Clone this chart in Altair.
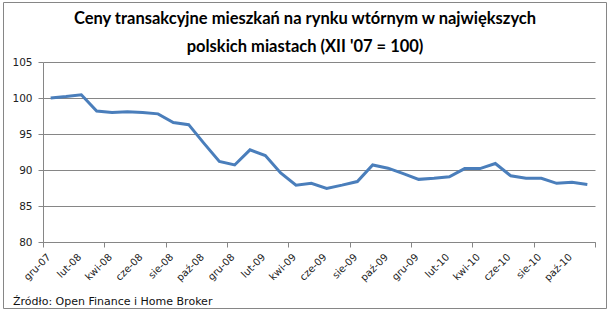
import altair as alt
import pandas as pd

months = ["gru-07", "sty-08", "lut-08", "mar-08", "kwi-08", "maj-08", "cze-08", "lip-08",
          "sie-08", "wrz-08", "paź-08", "lis-08", "gru-08", "sty-09", "lut-09", "mar-09",
          "kwi-09", "maj-09", "cze-09", "lip-09", "sie-09", "wrz-09", "paź-09", "lis-09",
          "gru-09", "sty-10", "lut-10", "mar-10", "kwi-10", "maj-10", "cze-10", "lip-10",
          "sie-10", "wrz-10", "paź-10", "lis-10"]
values = [100.0, 100.2, 100.45, 98.2, 98.0, 98.1, 98.0, 97.8,
          96.6, 96.3, 93.7, 91.2, 90.7, 92.8, 92.0, 89.6,
          87.9, 88.15, 87.45, 87.9, 88.4, 90.7, 90.25, 89.5,
          88.7, 88.85, 89.05, 90.2, 90.2, 90.9, 89.2, 88.85,
          88.85, 88.15, 88.3, 88.0]
y_ticks = [80, 85, 90, 95, 100, 105]
title_lines = ["Ceny transakcyjne  mieszkań  na rynku wtórnym w największych",
               "polskich miastach  (XII '07 = 100)"]
source = "Źródło: Open Finance i Home  Broker"

n = len(months)
df = pd.DataFrame({"idx": list(range(n)), "month": months, "value": values})
df_lab = df.iloc[0::2]

tick_vals = [i - 0.5 for i in range(0, n + 1, 2)]

GRAY = "#868686"
xscale = alt.Scale(domain=[-0.5, n - 0.5], nice=False, zero=False)

line = alt.Chart(df).mark_line(color="#4A7EBB", strokeWidth=3).encode(
    x=alt.X("idx:Q", scale=xscale,
            axis=alt.Axis(values=tick_vals, labels=False, grid=False, title=None,
                          tickSize=5)),
    y=alt.Y("value:Q",
            scale=alt.Scale(domain=[80, 105], nice=False, zero=False),
            axis=alt.Axis(values=y_ticks, grid=True, title=None, tickSize=5,
                          labelPadding=6)),
)

xlabels = alt.Chart(df_lab).mark_text(
    angle=315, align="right", baseline="top", font="DejaVu Sans", fontSize=10,
    color="#222"
).encode(
    x=alt.X("idx:Q", scale=xscale),
    xOffset=alt.value(-5),
    y=alt.value(190),
    text="month:N",
)

border = alt.Chart(alt.Data(values=[{"a": 1}])).mark_rect(
    fill=None, stroke=GRAY, strokeWidth=1
).encode(x=alt.value(-39.5), x2=alt.value(563.5), y=alt.value(-59.5), y2=alt.value(246.5))

src = alt.Chart(alt.Data(values=[{"t": source}])).mark_text(
    align="left", baseline="alphabetic", font="DejaVu Sans", fontSize=11, color="#111"
).encode(text="t:N", x=alt.value(-30), y=alt.value(243))

ttl = alt.Chart(alt.Data(values=[{"t": title_lines[0], "k": 0}, {"t": title_lines[1], "k": 1}])).mark_text(
    align="center", baseline="alphabetic", font="Lato", fontSize=16.5, fontWeight="bold", color="#000"
).encode(
    text="t:N", x=alt.value(262),
    y=alt.Y("k:Q", scale=alt.Scale(domain=[0, 1], range=[-38, -10]), axis=None),
)

chart = alt.layer(line, xlabels, border, src, ttl).resolve_scale(y="independent").properties(
    width=552, height=180,
    autosize=alt.AutoSizeParams(type="none"),
    padding={"left": 43, "top": 62, "right": 15, "bottom": 70},
).configure_view(stroke=None).configure_axis(
    domainColor=GRAY, tickColor=GRAY, gridColor=GRAY, gridOpacity=1,
    labelFont="DejaVu Sans", labelFontSize=10.5, labelColor="#222",
)

chart.save("out.html", embed_options={"renderer": "svg", "actions": False})
